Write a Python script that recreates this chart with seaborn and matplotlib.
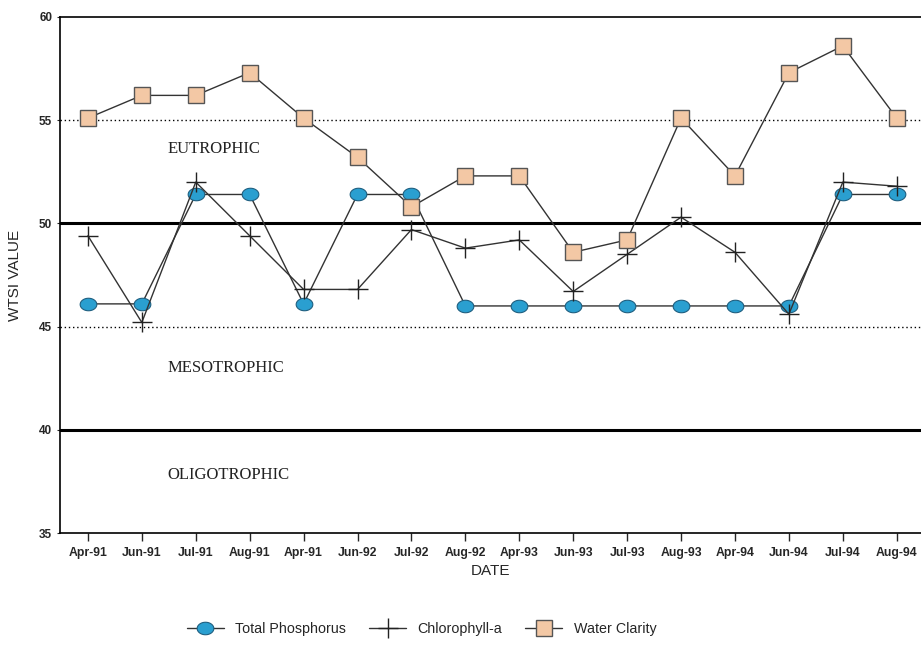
import matplotlib
matplotlib.use('Agg')
import matplotlib.pyplot as plt
from matplotlib.path import Path
import seaborn as sns
import numpy as np
import pandas as pd

# ── Data ──────────────────────────────────────────────────────────────
dates = ['Apr-91', 'Jun-91', 'Jul-91', 'Aug-91', 'Apr-91', 'Jun-92', 'Jul-92', 'Aug-92',
         'Apr-93', 'Jun-93', 'Jul-93', 'Aug-93', 'Apr-94', 'Jun-94', 'Jul-94', 'Aug-94']
total_phosphorus = [46.1, 46.1, 51.4, 51.4, 46.1, 51.4, 51.4, 46.0,
                    46.0, 46.0, 46.0, 46.0, 46.0, 46.0, 51.4, 51.4]
chlorophyll_a = [49.4, 45.2, 52.0, 49.4, 46.8, 46.8, 49.7, 48.8,
                 49.2, 46.7, 48.5, 50.3, 48.6, 45.6, 52.0, 51.8]
water_clarity = [55.1, 56.2, 56.2, 57.3, 55.1, 53.2, 50.8, 52.3,
                 52.3, 48.6, 49.2, 55.1, 52.3, 57.3, 58.6, 55.1]

zones = ['EUTROPHIC', 'MESOTROPHIC', 'OLIGOTROPHIC']
zone_y = [53.6, 43.0, 37.8]
solid_lines = [50, 40]
dotted_lines = [55, 45]

pos = np.arange(len(dates))
df = pd.DataFrame({'pos': pos, 'tp': total_phosphorus,
                   'chl': chlorophyll_a, 'wc': water_clarity})

# flattened circle, as in the scanned original
t = np.linspace(0, 2 * np.pi, 60)
ellipse = Path(np.column_stack([np.cos(t), 0.75 * np.sin(t)]), closed=True)

sns.set_style('white')
plt.rcParams['font.family'] = ['Liberation Sans', 'DejaVu Sans']

fig = plt.figure(figsize=(9.21, 6.52), dpi=100)
ax = fig.add_axes([0.065, 0.1825, 0.935, 0.7915])

# ── Zone boundaries ───────────────────────────────────────────────────
for y in solid_lines:
    ax.axhline(y, color='black', lw=2.2, zorder=1)
for y in dotted_lines:
    ax.axhline(y, color='black', lw=1.0, ls=(0, (1, 2)), zorder=1)

# ── Series ────────────────────────────────────────────────────────────
sns.lineplot(data=df, x='pos', y='tp', ax=ax, color='#333333', lw=1.0,
             marker=ellipse, markersize=12, markerfacecolor='#2a9fd0',
             markeredgecolor='#1f5f80', markeredgewidth=0.8,
             label='Total Phosphorus', zorder=3)
sns.lineplot(data=df, x='pos', y='chl', ax=ax, color='#333333', lw=1.0,
             marker='+', markersize=14, markeredgecolor='#222222',
             markeredgewidth=1.0, label='Chlorophyll-a', zorder=3)
sns.lineplot(data=df, x='pos', y='wc', ax=ax, color='#333333', lw=1.0,
             marker='s', markersize=12, markerfacecolor='#f3c8a5',
             markeredgecolor='#555555', markeredgewidth=1.0,
             label='Water Clarity', zorder=3)

for name, y in zip(zones, zone_y):
    ax.text(1.48, y, name, family='Liberation Serif', fontsize=12,
            ha='left', va='center', color='#222222')

# ── Axes ──────────────────────────────────────────────────────────────
ax.set_xlim(-0.52, 15.45)
ax.set_ylim(35, 60)
ax.set_yticks([35, 40, 45, 50, 55, 60])
ax.set_xticks(pos)
ax.set_xticklabels(dates, fontsize=8.8, fontweight='bold')
ax.tick_params(axis='y', labelsize=8.5, length=2, width=0.8, direction='out', left=True)
ax.tick_params(axis='x', length=6, width=1.0, direction='out', bottom=True, pad=4)
for lbl in ax.get_yticklabels():
    lbl.set_fontweight('bold')
ax.set_xlabel('DATE', fontsize=11, labelpad=4)
ax.set_ylabel('WTSI VALUE', fontsize=11, labelpad=12)
for s in ['left', 'bottom', 'top']:
    ax.spines[s].set_color('black')
    ax.spines[s].set_linewidth(1.2)
ax.spines['right'].set_visible(False)

ax.legend(loc='upper center', bbox_to_anchor=(0.42, -0.148), ncol=3,
          frameon=False, fontsize=10.3, handlelength=2.6, columnspacing=1.6)

plt.savefig('out.png', dpi=100)
plt.close()
